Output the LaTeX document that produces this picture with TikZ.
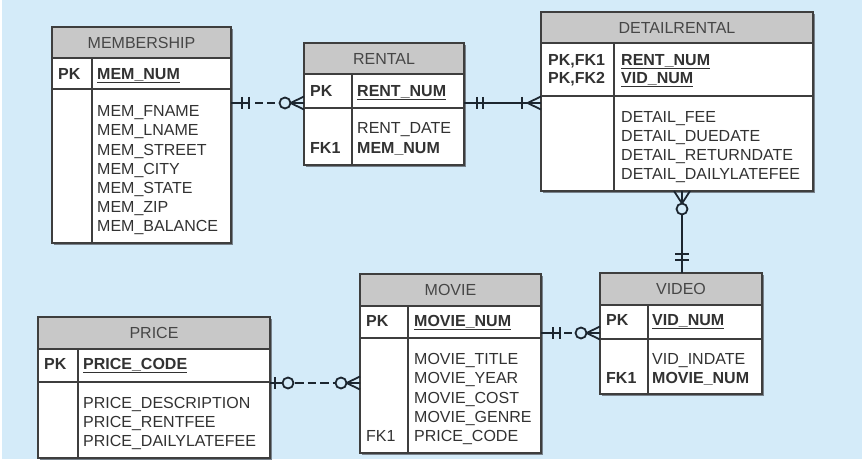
\documentclass[tikz,border=0pt]{standalone}
\usepackage{fontspec}
\setmainfont{Liberation Sans}
\usetikzlibrary{calc}
\definecolor{bgblue}{RGB}{212,235,249}
\definecolor{hdrgray}{RGB}{200,200,200}
\definecolor{bordc}{RGB}{62,62,62}
\definecolor{txtc}{RGB}{50,50,50}
\definecolor{ttlc}{RGB}{70,70,70}
\definecolor{relc}{RGB}{28,38,48}
\definecolor{shadc}{RGB}{120,130,140}
\newsavebox\ulbox
\newcommand\keyul[1]{\sbox\ulbox{#1}\rlap{\rule[-3.6pt]{\wd\ulbox}{1.3pt}}\usebox\ulbox}
\tikzset{
  ebox/.style={draw=bordc, line width=1.4pt, fill=white, inner sep=0pt, outer sep=0pt},
  divline/.style={draw=bordc, line width=1.4pt},
  hdrtxt/.style={text=ttlc, font=\fontsize{16}{19.2}\selectfont, inner sep=0pt},
  attr/.style={text=txtc, font=\fontsize{16}{19.2}\selectfont, inner sep=0pt, anchor=base west},
  relline/.style={draw=relc, line width=1.8pt},
  reldash/.style={relline, dash pattern=on 8pt off 4pt},
}
% #1 name #2 x0 #3 y0 #4 x1 #5 y1 #6 header bottom #7 key row bottom #8 divider x #9 title
\newcommand\erbox[9]{%
  \fill[shadc] (#2+1.6,#3+1.6) rectangle (#4+1.6,#5+1.6);
  \node[ebox, anchor=north west, minimum width=#4-#2, minimum height=#5-#3] (#1) at (#2,#3) {};
  \fill[hdrgray] (#2,#3) rectangle (#4,#6);
  \draw[divline] (#2,#6) -- (#4,#6) (#2,#7) -- (#4,#7) (#8,#6) -- (#8,#5);
  \draw[divline] (#1.north west) rectangle (#1.south east);
  \node[hdrtxt] (#1-title) at ({(#2+#4)/2},{(#3+#6)/2}) {#9};
}
\begin{document}
\begin{tikzpicture}[x=1pt,y=-1pt]
\useasboundingbox (0,0) rectangle (862,462);
\fill[white] (0,0) rectangle (862,462);
\fill[bgblue] (2,0) rectangle (862,459);

% ---------- entities ----------
\erbox{mem}{52}{27}{231}{243}{58}{89}{92}{MEMBERSHIP}
\node[attr] (mem-pk) at (58,79.7) {\bfseries PK};
\node[attr] (mem-key) at (97,79.7) {\bfseries\keyul{MEM\_NUM}};
\foreach \t [count=\i] in {MEM\_FNAME,MEM\_LNAME,MEM\_STREET,MEM\_CITY,MEM\_STATE,MEM\_ZIP,MEM\_BALANCE}
  \node[attr] (mem-a\i) at (97,{116.7+19.2*(\i-1)}) {\t};

\erbox{rental}{304}{43}{464}{165}{74}{108}{352}{RENTAL}
\node[attr] (rental-pk) at (310,96.7) {\bfseries PK};
\node[attr] (rental-key) at (357,96.7) {\bfseries\keyul{RENT\_NUM}};
\node[attr] (rental-a1) at (357,133.7) {RENT\_DATE};
\node[attr] (rental-fk) at (310,153.7) {\bfseries FK1};
\node[attr] (rental-a2) at (357,153.7) {\bfseries MEM\_NUM};

\erbox{detail}{541}{12}{813}{191}{43}{96}{614}{DETAILRENTAL}
\node[attr] (detail-pk1) at (548,65.7) {\bfseries PK,FK1};
\node[attr] (detail-pk2) at (548,83.7) {\bfseries PK,FK2};
\node[attr] (detail-key1) at (621,65.7) {\bfseries\keyul{RENT\_NUM}};
\node[attr] (detail-key2) at (621,83.7) {\bfseries\keyul{VID\_NUM}};
\foreach \t [count=\i] in {DETAIL\_FEE,DETAIL\_DUEDATE,DETAIL\_RETURNDATE,DETAIL\_DAILYLATEFEE}
  \node[attr] (detail-a\i) at (621,{122.2+19.2*(\i-1)}) {\t};

\erbox{price}{38}{317}{270}{458}{349}{382}{78}{PRICE}
\node[attr] (price-pk) at (44,369.7) {\bfseries PK};
\node[attr] (price-key) at (83,369.7) {\bfseries\keyul{PRICE\_CODE}};
\foreach \t [count=\i] in {PRICE\_DESCRIPTION,PRICE\_RENTFEE,PRICE\_DAILYLATEFEE}
  \node[attr] (price-a\i) at (83,{408.2+19.2*(\i-1)}) {\t};

\erbox{movie}{360}{274}{541}{453}{306}{338}{408}{MOVIE}
\node[attr] (movie-pk) at (366,326.7) {\bfseries PK};
\node[attr] (movie-key) at (414,326.7) {\bfseries\keyul{MOVIE\_NUM}};
\foreach \t [count=\i] in {MOVIE\_TITLE,MOVIE\_YEAR,MOVIE\_COST,MOVIE\_GENRE,PRICE\_CODE}
  \node[attr] (movie-a\i) at (414,{364.7+19.2*(\i-1)}) {\t};
\node[attr] (movie-fk) at (366,441.5) {FK1};

\erbox{video}{600}{273}{762}{394}{305}{339}{648}{VIDEO}
\node[attr] (video-pk) at (606,325.7) {\bfseries PK};
\node[attr] (video-key) at (652,325.7) {\bfseries\keyul{VID\_NUM}};
\node[attr] (video-a1) at (652,364.7) {VID\_INDATE};
\node[attr] (video-fk) at (606,383.7) {\bfseries FK1};
\node[attr] (video-a2) at (652,383.7) {\bfseries MOVIE\_NUM};

% ---------- relationships ----------
% MEMBERSHIP -- RENTAL
\coordinate (c1s) at (mem.east |- 0,103);
\coordinate (c1e) at (rental.west |- 0,103);
\draw[relline] (c1s) -- ($(c1s)+(19,0)$);
\draw[relline] ($(c1s)+(11,-6)$) -- ++(0,12) ($(c1s)+(18,-6)$) -- ++(0,12);
\draw[reldash] ($(c1s)+(24,0)$) -- ($(c1e)+(-29,0)$);
\draw[relline] ($(c1e)+(-19,0)$) circle[radius=5.5pt];
\draw[relline] ($(c1e)+(-13.5,0)$) -- (c1e)
  ($(c1e)+(-13.5,0)$) -- ($(c1e)+(0,-6.5)$)
  ($(c1e)+(-13.5,0)$) -- ($(c1e)+(0,6.5)$);

% RENTAL -- DETAILRENTAL
\coordinate (c2s) at (rental.east |- 0,103);
\coordinate (c2e) at (detail.west |- 0,103);
\draw[relline] (c2s) -- (c2e);
\draw[relline] ($(c2s)+(13,-6)$) -- ++(0,12) ($(c2s)+(19,-6)$) -- ++(0,12);
\draw[relline] ($(c2e)+(-19,-6)$) -- ++(0,12);
\draw[relline] ($(c2e)+(-13.5,0)$) -- ($(c2e)+(0,-6.5)$)
  ($(c2e)+(-13.5,0)$) -- ($(c2e)+(0,6.5)$);

% DETAILRENTAL -- VIDEO
\coordinate (c3s) at (detail.south -| 682,0);
\coordinate (c3e) at (video.north -| 682,0);
\draw[relline] ($(c3s)+(0,12.5)$) -- (c3s)
  ($(c3s)+(0,12.5)$) -- ($(c3s)+(-8,0)$)
  ($(c3s)+(0,12.5)$) -- ($(c3s)+(8,0)$);
\draw[relline] ($(c3s)+(0,18)$) circle[radius=5.5pt];
\draw[relline] ($(c3s)+(0,23.5)$) -- (c3e);
\draw[relline] ($(c3e)+(-7,-19)$) -- ++(14,0) ($(c3e)+(-7,-13)$) -- ++(14,0);

% MOVIE -- VIDEO
\coordinate (c4s) at (movie.east |- 0,333);
\coordinate (c4e) at (video.west |- 0,333);
\draw[relline] (c4s) -- ($(c4s)+(19,0)$);
\draw[relline] ($(c4s)+(12,-6)$) -- ++(0,12) ($(c4s)+(19,-6)$) -- ++(0,12);
\draw[reldash] ($(c4s)+(23,0)$) -- ($(c4s)+(32,0)$);
\draw[relline] ($(c4e)+(-19,0)$) circle[radius=5.5pt];
\draw[relline] ($(c4e)+(-13.5,0)$) -- (c4e)
  ($(c4e)+(-13.5,0)$) -- ($(c4e)+(0,-6.5)$)
  ($(c4e)+(-13.5,0)$) -- ($(c4e)+(0,6.5)$);

% PRICE -- MOVIE
\coordinate (c5s) at (price.east |- 0,383);
\coordinate (c5e) at (movie.west |- 0,383);
\draw[relline] (c5s) -- ($(c5s)+(12.5,0)$);
\draw[relline] ($(c5s)+(5,-6)$) -- ++(0,12);
\draw[relline] ($(c5s)+(18,0)$) circle[radius=5.5pt];
\draw[relline, dash pattern=on 8.5pt off 4pt] ($(c5s)+(25,0)$) -- ($(c5e)+(-24.5,0)$);
\draw[relline] ($(c5e)+(-19,0)$) circle[radius=5.5pt];
\draw[relline] ($(c5e)+(-13.5,0)$) -- (c5e)
  ($(c5e)+(-13.5,0)$) -- ($(c5e)+(0,-6.5)$)
  ($(c5e)+(-13.5,0)$) -- ($(c5e)+(0,6.5)$);
\end{tikzpicture}
\end{document}
